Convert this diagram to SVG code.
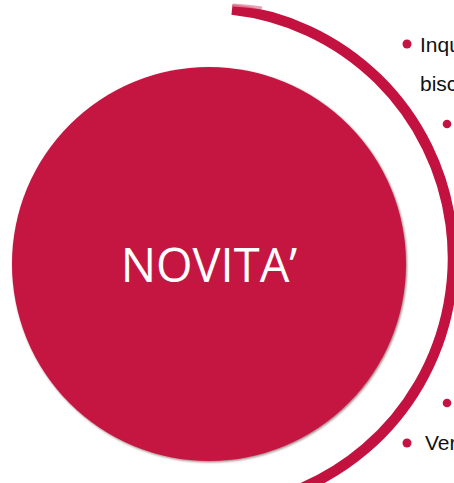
<svg xmlns="http://www.w3.org/2000/svg" width="454" height="483" viewBox="0 0 454 483">
  <style>
    .crim { fill: #C51442; }
    .arc { fill: none; stroke: #C3123F; stroke-width: 10.5; stroke-linecap: butt; }
    .title { font-family: "Open Sans", "Liberation Sans", sans-serif; font-size: 47px; fill: #FFFFFF; text-anchor: middle; }
    .item { font-family: "Liberation Sans", Arial, sans-serif; font-size: 21px; fill: #111111; }
  </style>
  <defs>
    <filter id="sh" x="-5%" y="-5%" width="110%" height="110%">
      <feDropShadow dx="1" dy="1.2" stdDeviation="1" flood-color="#4a0716" flood-opacity="0.55"/>
    </filter>
  </defs>
  <rect width="454" height="483" fill="#FFFFFF"/>

  <g id="connectors">
    <path class="arc" d="M232,9.5 A248,250 0 0 1 297.4,490"/>
    <path d="M233,5 C243,5.6 253,6.6 262,8" fill="none" stroke="#E38AA2" stroke-width="3" opacity="0.8"/>
  </g>

  <g id="novita">
    <circle class="crim" cx="209" cy="264" r="197" filter="url(#sh)"/>
    <text class="title" x="209" y="282">NOVITA’</text>
  </g>

  <g id="item-inqu">
    <circle class="crim" cx="407" cy="44" r="4.5"/>
    <text class="item" x="420" y="52">Inqu</text>
    <text class="item" x="420" y="91">bisc</text>
  </g>
  <g id="item-sub1">
    <circle class="crim" cx="447" cy="124" r="4.3"/>
  </g>
  <g id="item-sub2">
    <circle class="crim" cx="447" cy="403" r="4.3"/>
  </g>
  <g id="item-ver">
    <circle class="crim" cx="407" cy="443" r="4.5"/>
    <text class="item" x="425" y="450">Ver</text>
  </g>
</svg>
